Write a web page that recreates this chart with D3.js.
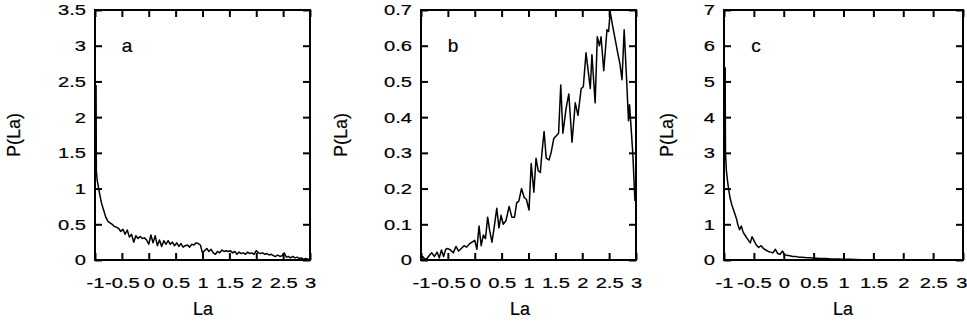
<!DOCTYPE html>
<html>
<head>
<meta charset="utf-8">
<script src="https://cdn.jsdelivr.net/npm/d3@7"></script>
<style>
    body { margin: 0; background: #fff; }
    text { font-family: "Liberation Sans", Arial, sans-serif; fill: #000; stroke: #000; stroke-width: 0.2px; }
</style>
</head>
<body>
<div id="wrapper"></div>
<script>
// panel a
const laA = [-0.98,-0.975,-0.96,-0.92,-0.88,-0.84,-0.8,-0.76,-0.72,-0.68,-0.64,-0.6,-0.56,-0.52,-0.48,-0.44,-0.4,-0.36,-0.32,-0.28,-0.24,-0.2,-0.16,-0.12,-0.08,-0.04,0,0.04,0.08,0.12,0.16,0.2,0.24,0.28,0.32,0.36,0.4,0.44,0.48,0.52,0.56,0.6,0.64,0.68,0.72,0.76,0.8,0.84,0.88,0.92,0.96,1,1.04,1.08,1.12,1.16,1.2,1.24,1.28,1.32,1.36,1.4,1.44,1.48,1.52,1.56,1.6,1.64,1.68,1.72,1.76,1.8,1.84,1.88,1.92,1.96,2,2.04,2.08,2.12,2.16,2.2,2.24,2.28,2.32,2.36,2.4,2.44,2.48,2.52,2.56,2.6,2.64,2.68,2.72,2.76,2.8,2.84,2.88,2.92,2.96,3];
const pA = [2.45,1.25,1.12,0.95,0.8,0.7,0.6,0.54,0.52,0.5,0.47,0.46,0.44,0.4,0.43,0.36,0.42,0.32,0.36,0.25,0.34,0.3,0.33,0.3,0.31,0.28,0.22,0.35,0.24,0.34,0.2,0.28,0.19,0.27,0.22,0.27,0.22,0.25,0.2,0.24,0.19,0.23,0.18,0.2,0.21,0.18,0.22,0.21,0.24,0.23,0.21,
    0.1,0.13,0.16,0.12,0.15,0.1,0.08,0.12,0.1,0.14,0.12,0.13,0.12,0.13,0.1,0.12,0.08,0.11,0.09,0.1,0.08,0.11,0.09,0.1,0.08,
    0.13,0.1,0.09,0.1,0.08,0.09,0.07,0.08,0.06,0.05,0.07,0.05,0.06,0.1,0.04,0.05,0.03,0.05,0.03,0.04,0.02,0.03,0.01,0.02,0.01,0.01];

// panel b
const laB = [-1,-0.97,-0.94,-0.9,-0.85,-0.8,-0.75,-0.7,-0.66,-0.62,-0.58,-0.54,-0.5,-0.45,-0.4,-0.35,-0.3,-0.25,-0.2,-0.15,-0.1,-0.05,0,0.04,0.08,0.12,0.16,0.2,0.24,0.28,0.32,0.36,0.41,0.45,0.49,0.53,0.58,0.64,0.69,0.74,0.78,0.82,0.87,0.92,0.96,1.01,1.05,1.1,1.14,1.18,1.22,1.25,1.29,1.33,1.38,1.42,1.47,1.53,1.56,1.6,1.64,1.7,1.75,1.81,1.87,1.92,1.98,2.02,2.07,2.11,2.15,2.18,2.24,2.28,2.32,2.35,2.4,2.46,2.49,2.52,2.56,2.61,2.66,2.7,2.74,2.78,2.83,2.86,2.88,2.9,2.94,2.98];
const pB = [0.002,0.01,0.004,0.002,0.012,0.02,0.01,0.022,0.006,0.028,0.01,0.03,0.032,0.028,0.02,0.038,0.025,0.032,0.04,0.036,0.045,0.05,0.055,0.03,0.095,0.04,0.07,0.06,0.12,0.08,0.05,0.09,0.145,0.09,0.125,0.1,0.11,0.15,0.12,0.12,0.16,0.165,0.2,0.175,0.17,0.14,0.27,0.19,0.285,0.25,0.245,0.3,0.36,0.285,0.28,0.3,0.34,0.35,0.355,0.49,0.355,0.425,0.465,0.33,0.44,0.405,0.48,0.485,0.58,0.53,0.48,0.575,0.44,0.625,0.6,0.625,0.53,0.645,0.64,0.695,0.66,0.62,0.58,0.55,0.505,0.645,0.49,0.39,0.435,0.39,0.3,0.165];

// panel c
const laC = [-0.98,-0.978,-0.975,-0.96,-0.94,-0.92,-0.9,-0.87,-0.84,-0.82,-0.79,-0.77,-0.74,-0.71,-0.68,-0.65,-0.62,-0.59,-0.56,-0.53,-0.5,-0.46,-0.42,-0.38,-0.34,-0.3,-0.26,-0.22,-0.18,-0.14,-0.1,-0.06,-0.02,0.01,0.05,0.1,0.15,0.2,0.25,0.3,0.35,0.4,0.45,0.5,0.55,0.6,0.7,0.8,0.9,1.0,1.1,1.2,1.3,1.4,1.5,1.6,1.7,1.8];
const pC = [5.4,4.0,3.0,2.5,2.2,1.95,1.75,1.55,1.4,1.3,1.15,1.0,0.85,0.95,0.78,0.7,0.62,0.55,0.48,0.65,0.55,0.42,0.35,0.4,0.32,0.28,0.24,0.22,0.2,0.3,0.18,0.16,0.25,0.15,0.13,0.12,0.1,0.1,0.08,0.08,0.07,0.06,0.06,0.05,0.05,0.04,0.04,0.03,0.03,0.02,0.02,0.015,0.01,0.01,0.008,0.005,0.003,0.0];

const xTicks = [-1,-0.5,0,0.5,1,1.5,2,2.5,3];
const yTicksA = [0,0.5,1,1.5,2,2.5,3,3.5];
const yTicksB = [0,0.1,0.2,0.3,0.4,0.5,0.6,0.7];
const yTicksC = [0,1,2,3,4,5,6,7];

const panels = [
    {label: "a", la: laA, p: pA, yTicks: yTicksA, left: 95,  right: 310, ylabX: 20,  xlabX: 203},
    {label: "b", la: laB, p: pB, yTicks: yTicksB, left: 421, right: 636, ylabX: 347, xlabX: 520},
    {label: "c", la: laC, p: pC, yTicks: yTicksC, left: 724, right: 963, ylabX: 673, xlabX: 843}
];

const plotTop = 10, plotBottom = 260, tick = 7;

const svg = d3.select("#wrapper")
    .append("svg")
    .attr("width", 967)
    .attr("height", 326);

// gnuplot text looks horizontally stretched
function stretch(g) {
    g.selectAll(".tick text").each(function() {
        const t = d3.select(this);
        const x = +t.attr("x") || 0, y = +t.attr("y") || 0;
        t.attr("x", null).attr("y", null)
            .attr("transform", `translate(${x},${y}) scale(1.3,1)`);
    });
}

panels.forEach(pn => {
    const x = d3.scaleLinear().domain([-1, 3]).range([pn.left, pn.right]);
    const y = d3.scaleLinear().domain([0, d3.max(pn.yTicks)]).range([plotBottom, plotTop]);

    const gx = svg.append("g")
        .attr("transform", `translate(0,${plotBottom})`)
        .call(d3.axisBottom(x).tickValues(xTicks).tickSize(-tick).tickSizeOuter(0)
            .tickPadding(17).tickFormat(d => String(d)));
    const gxt = svg.append("g")
        .attr("transform", `translate(0,${plotTop})`)
        .call(d3.axisTop(x).tickValues(xTicks).tickSize(-tick).tickSizeOuter(0).tickFormat(""));
    const gy = svg.append("g")
        .attr("transform", `translate(${pn.left},0)`)
        .call(d3.axisLeft(y).tickValues(pn.yTicks).tickSize(-tick).tickSizeOuter(0)
            .tickPadding(9).tickFormat(d => String(d)));
    const gyr = svg.append("g")
        .attr("transform", `translate(${pn.right},0)`)
        .call(d3.axisRight(y).tickValues(pn.yTicks).tickSize(-tick).tickSizeOuter(0).tickFormat(""));

    [gx, gxt, gy, gyr].forEach(g => {
        g.select(".domain").remove();
        g.selectAll(".tick line").attr("stroke", "#000").attr("stroke-width", 2);
        g.selectAll("text").style("font-size", "15.5px").attr("font-family", null).attr("fill", null);
    });
    stretch(gx);
    stretch(gy);

    // keep the last label on the right edge inside the page
    if (pn.right > 950) {
        gx.selectAll(".tick text").filter(d => d === 3).attr("text-anchor", "end")
            .attr("transform", function() { return this.getAttribute("transform").replace("translate(0,", "translate(4,"); });
    }

    svg.append("rect")
        .attr("x", pn.left)
        .attr("y", plotTop)
        .attr("width", pn.right - pn.left)
        .attr("height", plotBottom - plotTop)
        .attr("fill", "none")
        .attr("stroke", "#000")
        .attr("stroke-width", 2);

    const pts = pn.la.map((v, i) => [v, pn.p[i]]);
    svg.append("path")
        .datum(pts)
        .attr("fill", "none")
        .attr("stroke", "#000")
        .attr("stroke-width", 1.5)
        .attr("stroke-linejoin", "round")
        .attr("d", d3.line().x(d => x(d[0])).y(d => y(d[1])));

    svg.append("text")
        .attr("x", pn.left + 32)
        .attr("y", 52)
        .attr("text-anchor", "middle")
        .style("font-size", "19px")
        .text(pn.label);

    svg.append("text")
        .attr("transform", `translate(${pn.ylabX},${(plotTop + plotBottom) / 2}) rotate(-90)`)
        .attr("text-anchor", "middle")
        .style("font-size", "18px")
        .text("P(La)");

    svg.append("text")
        .attr("x", pn.xlabX)
        .attr("y", 315)
        .attr("text-anchor", "middle")
        .style("font-size", "18px")
        .text("La");
});
</script>
</body>
</html>
